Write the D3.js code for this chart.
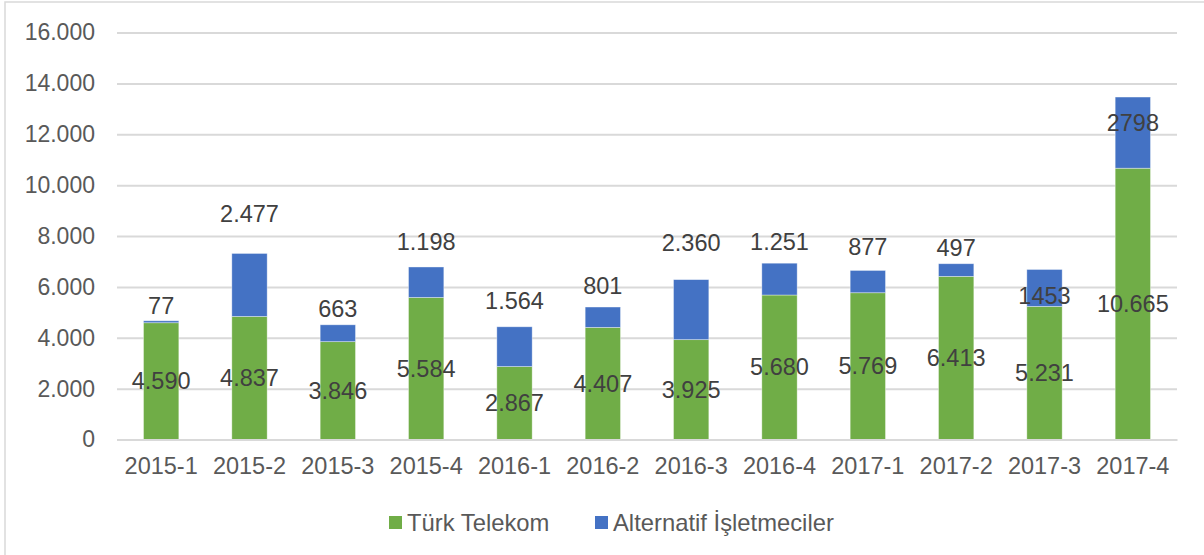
<!DOCTYPE html>
<html>
<head>
<meta charset="utf-8">
<script src="https://cdn.jsdelivr.net/npm/d3@7"></script>
<style>
	body { margin: 0; background: #fff; }
	svg { display: block; font-family: "Liberation Sans", Arial, sans-serif; }
</style>
</head>
<body>
<div id="chart"></div>
<script>
// data
const quarters = ["2015-1", "2015-2", "2015-3", "2015-4", "2016-1", "2016-2", "2016-3", "2016-4", "2017-1", "2017-2", "2017-3", "2017-4"];
const turkTelekom = [4590, 4837, 3846, 5584, 2867, 4407, 3925, 5680, 5769, 6413, 5231, 10665];
const alternatif = [77, 2477, 663, 1198, 1564, 801, 2360, 1251, 877, 497, 1453, 2798];
// labels of the blue series as typed in the source (two have no separator)
const altLabels = ["77", "2.477", "663", "1.198", "1.564", "801", "2.360", "1.251", "877", "497", "1453", "2798"];
// where the blue labels sit, in data units (moved by hand in the source)
const altLabelAt = [5260, 8893, 5158, 7764, 5472, 6046, 7745, 7764, 7568, 7536, 5634, 12462];
const yTicks = [0, 2000, 4000, 6000, 8000, 10000, 12000, 14000, 16000];
const seriesNames = ["Türk Telekom", "Alternatif İşletmeciler"];

let width = 1204;
let height = 555;
let margin = { top: 32.5, right: 27, bottom: 115.5, left: 117 };

let colors = { tt: "#70AD47", alt: "#4472C4" };
let fontSize = 23;

let locale = d3.formatLocale({ decimal: ",", thousands: ".", grouping: [3], currency: ["", ""] });
let num_format = locale.format(",d");

let rows = quarters.map((q, i) => ({ q: q, tt: turkTelekom[i], alt: alternatif[i] }));
let stacked = d3.stack().keys(["tt", "alt"])(rows);

let x = d3.scaleBand()
	.domain(quarters)
	.range([margin.left, width - margin.right])
	.paddingInner(0.6)
	.paddingOuter(0.3);

let y = d3.scaleLinear()
	.domain([0, 16000])
	.range([height - margin.bottom, margin.top]);

let svg = d3.select("#chart")
	.append("svg")
	.attr("width", width)
	.attr("height", height);

// chart border
svg.append("rect")
	.attr("x", 5)
	.attr("y", 2)
	.attr("width", width + 20)
	.attr("height", height + 20)
	.attr("fill", "none")
	.attr("stroke", "#d9d9d9")
	.attr("stroke-width", 1.5);

// grid + y labels
let yAxis = svg.append("g")
	.attr("transform", "translate(" + margin.left + ",0)")
	.call(d3.axisLeft(y).tickValues(yTicks).tickFormat(num_format)
		.tickSize(-(width - margin.left - margin.right)).tickPadding(22))
	.call((g) => g.select(".domain").remove());
yAxis.selectAll(".tick line").attr("stroke", "#d9d9d9").attr("stroke-width", 2);
yAxis.selectAll(".tick text")
	.attr("fill", "#595959")
	.style("font-size", fontSize + "px")
	.style("font-family", "'Liberation Sans', Arial, sans-serif");

// bars
svg.selectAll(".layer")
	.data(stacked)
	.enter()
	.append("g")
	.attr("fill", (d) => colors[d.key])
	.selectAll("rect")
	.data((d) => d)
	.enter()
	.append("rect")
	.attr("x", (d) => x(d.data.q))
	.attr("y", (d) => y(d[1]))
	.attr("width", x.bandwidth())
	.attr("height", (d) => y(d[0]) - y(d[1]))
	.attr("stroke", "#fff")
	.attr("stroke-opacity", 0.5)
	.attr("stroke-width", 0.75);

// x axis
let xAxis = svg.append("g")
	.attr("transform", "translate(0," + (height - margin.bottom) + ")")
	.call(d3.axisBottom(x).tickSize(0).tickPadding(18));
xAxis.select(".domain").attr("stroke", "#d9d9d9").attr("stroke-width", 2);
xAxis.selectAll(".tick text")
	.attr("fill", "#595959")
	.style("font-size", "23.5px")
	.style("font-family", "'Liberation Sans', Arial, sans-serif");

// labels, green in the middle of its segment
svg.selectAll(".tt-label")
	.data(stacked[0])
	.enter()
	.append("text")
	.attr("x", (d) => x(d.data.q) + x.bandwidth() / 2)
	.attr("y", (d) => y((d[0] + d[1]) / 2))
	.attr("dy", "0.35em")
	.attr("text-anchor", "middle")
	.attr("fill", "#404040")
	.style("font-size", "23.5px")
	.text((d) => num_format(d.data.tt));

svg.selectAll(".alt-label")
	.data(quarters)
	.enter()
	.append("text")
	.attr("x", (d) => x(d) + x.bandwidth() / 2)
	.attr("y", (d, i) => y(altLabelAt[i]))
	.attr("dy", "0.35em")
	.attr("text-anchor", "middle")
	.attr("fill", "#404040")
	.style("font-size", "23.5px")
	.text((d, i) => altLabels[i]);

// legend
let legend = svg.append("g");
let legendX = [389, 595];
let legendColors = [colors.tt, colors.alt];
seriesNames.forEach(function (name, i) {
	legend.append("rect")
		.attr("x", legendX[i])
		.attr("y", 516)
		.attr("width", 13)
		.attr("height", 13)
		.attr("fill", legendColors[i]);
	legend.append("text")
		.attr("x", legendX[i] + 18)
		.attr("y", 522.5)
		.attr("dy", "0.35em")
		.attr("fill", "#595959")
		.style("font-size", "23.8px")
		.text(name);
});
</script>
</body>
</html>
